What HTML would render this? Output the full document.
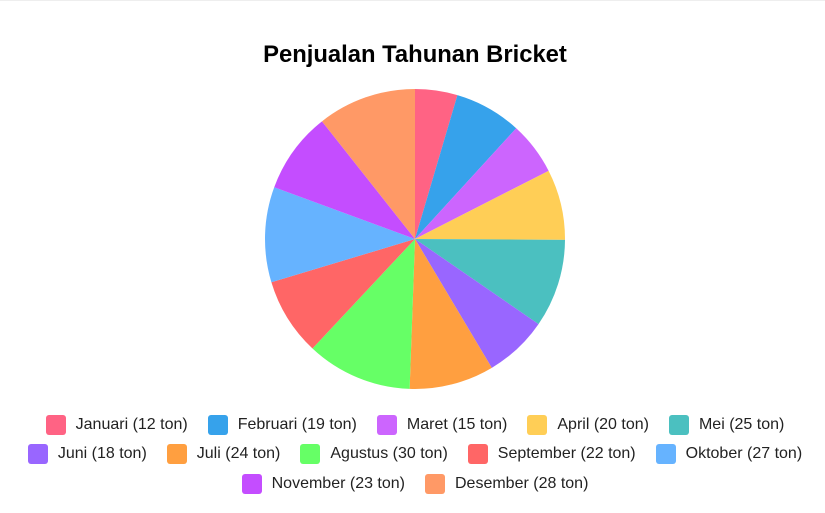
<!DOCTYPE html>
<html><head><meta charset="utf-8"><style>
html,body{margin:0;padding:0;background:#fff;width:825px;height:513px;overflow:hidden;font-family:"Liberation Sans",Arial,sans-serif}
#wrap{position:relative;width:825px;height:513px;border-top:1px solid #eee;box-sizing:border-box}
#title{position:absolute;top:40px;left:0;width:830px;text-align:center;font-weight:bold;font-size:23.8px;color:#000}
svg{position:absolute;left:0;top:0}
.row{position:absolute;left:0;width:830px;display:flex;justify-content:center;gap:20px;font-size:16px;color:#222}
.item{display:flex;align-items:center;gap:10px;height:20px}
.box{width:20px;height:20px;border-radius:3px}
</style></head><body>
<div id="wrap">
<div id="title">Penjualan Tahunan Bricket</div>
<svg id="pie" width="825" height="513"></svg>
<div id="legend"></div>
</div>
<script>
const categories=["Januari","Februari","Maret","April","Mei","Juni","Juli","Agustus","September","Oktober","November","Desember"];
const values=[12,19,15,20,25,18,24,30,22,27,23,28];
const colors=["#ff6384","#36a2eb","#cc65fe","#ffce56","#4bc0c0","#9966ff","#ff9f40","#66ff66","#ff6666","#66b3ff","#c44dff","#ff9966"];
const cx=415,cy=238,r=150;
const svg=document.getElementById('pie');
const total=values.reduce((a,b)=>a+b,0);
let a0=-Math.PI/2;
values.forEach((v,i)=>{
  const a1=a0+v/total*2*Math.PI;
  const x0=cx+r*Math.cos(a0),y0=cy+r*Math.sin(a0),x1=cx+r*Math.cos(a1),y1=cy+r*Math.sin(a1);
  const p=document.createElementNS('http://www.w3.org/2000/svg','path');
  p.setAttribute('d',`M${cx},${cy}L${x0},${y0}A${r},${r} 0 ${a1-a0>Math.PI?1:0} 1 ${x1},${y1}Z`);
  p.setAttribute('fill',colors[i]);
  
  
  svg.appendChild(p);
  a0=a1;
});
const rows=[[0,5],[5,10],[10,12]];
const tops=[414,443,473];
const leg=document.getElementById('legend');
rows.forEach((rg,ri)=>{
  const row=document.createElement('div');
  row.className='row';row.style.top=tops[ri]+'px';
  
  
  for(let i=rg[0];i<rg[1];i++){
    const it=document.createElement('div');it.className='item';
    
    
    const b=document.createElement('div');b.className='box';b.style.background=colors[i];
    const t=document.createElement('span');t.textContent=categories[i]+' ('+values[i]+' ton)';
    it.appendChild(b);it.appendChild(t);row.appendChild(it);
  }
  leg.appendChild(row);
});
</script>
</body></html>
